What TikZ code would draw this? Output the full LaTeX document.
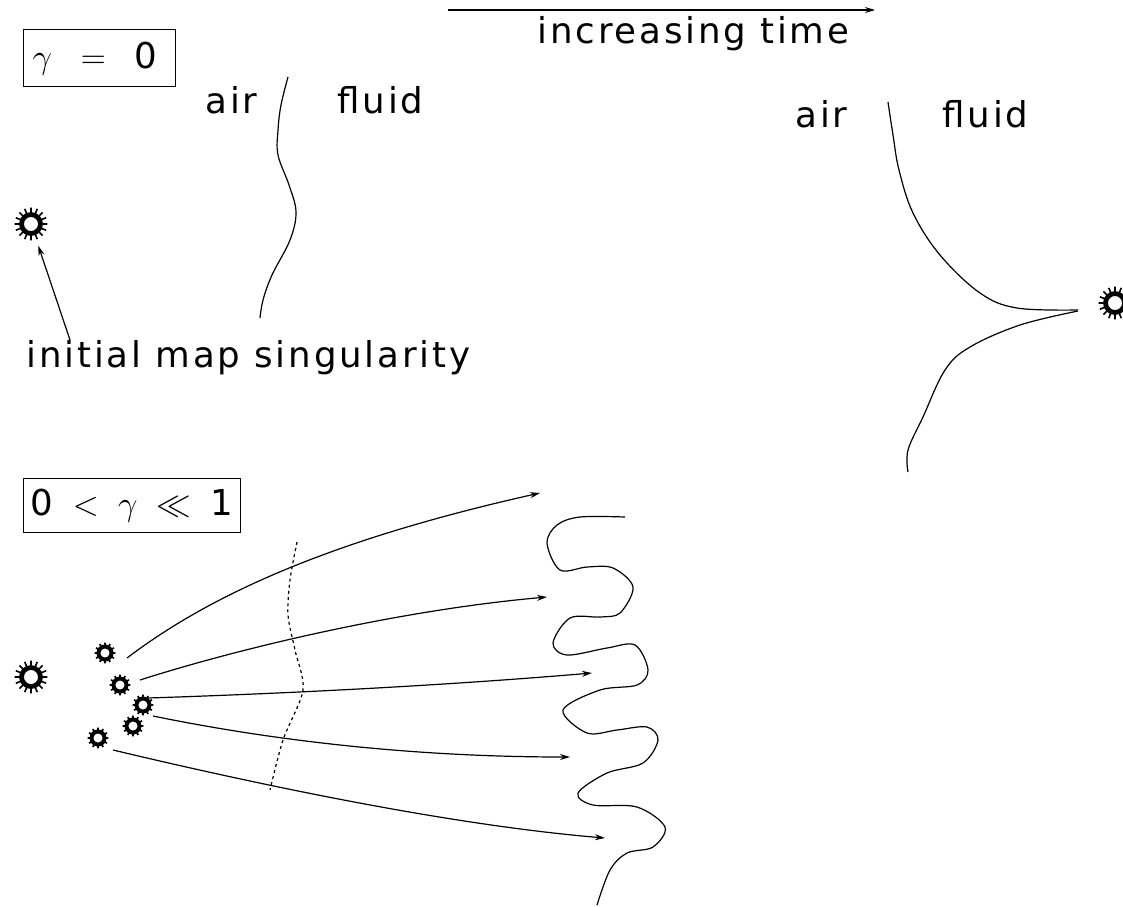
\documentclass[tikz,border=0pt]{standalone}
\usepackage{fontspec}
\setmainfont{DejaVu Sans}[LetterSpace=8]
\usepackage{tikz}
\usetikzlibrary{arrows.meta}

\tikzset{
  flow/.style={-{Stealth[length=5pt,width=3pt]},line width=0.6pt},
  lbl/.style={anchor=base west,inner sep=0pt},
  gbox/.style={draw,line width=0.7pt,anchor=north west,align=left,inner xsep=4.5pt,inner ysep=0pt},
  bigburst/.style={circle,draw,line width=2.4pt,minimum size=9.5pt,inner sep=0pt},
  smallburst/.style={circle,draw,line width=2pt,minimum size=6.5pt,inner sep=0pt},
}
% spikes round a burst node: name, inner radius, outer radius, step angle
\newcommand{\spikes}[4]{\draw[line width=0.8pt,shift={(#1.center)}] \foreach \a in {0,#4,...,359} {(\a:#2) -- (\a:#3)};}

\begin{document}
\begin{tikzpicture}[x=0.5pt,y=-0.5pt,every node/.style={font=\fontsize{17.8pt}{21pt}\selectfont}]
  \useasboundingbox (0,0) rectangle (1123,906);

  % time axis
  \coordinate (t0) at (448,10);
  \coordinate (t1) at (875,10);
  \draw[flow] (t0) -- (t1);
  \node[lbl] (time) at (537,43) {increasing time};

  % gamma = 0
  \node[gbox,text width=67pt,minimum height=28.5pt] (g0) at (23,29) {\mbox{$\gamma\;\;=\;\;\mbox{0}$}};
  \node[lbl] (air1) at (205,113) {air};
  \node[lbl] (fluid1) at (337,113) {fluid};
  \draw[line width=0.6pt] plot[smooth,tension=0.6] coordinates {(288,77) (281,105) (278,130) (278,155) (289,185) (296,212) (290,240) (272,275) (263,300) (260,318)};
  \node[bigburst] (s0) at (31,224) {};
  \spikes{s0}{4.8pt}{8.2pt}{22.5}
  \node[lbl] (sing) at (26,367) {initial map singularity};
  \coordinate (p0) at (70,340);
  \draw[flow,shorten >=5.5pt] (p0) -- (s0);

  % later time, gamma = 0
  \node[lbl] (air2) at (795,127) {air};
  \node[lbl] (fluid2) at (942,127) {fluid};
  \draw[line width=0.6pt] plot[smooth,tension=0.6] coordinates {(888,102) (893,135) (899,170) (913,213) (940,255) (980,293) (1017,308) (1078,310)};
  \draw[line width=0.6pt] plot[smooth,tension=0.6] coordinates {(1078,311) (1020,325) (970,347) (945,370) (923,417) (908,450) (908,472)};
  \node[bigburst] (sR) at (1115,303) {};
  \spikes{sR}{4.8pt}{8.2pt}{22.5}

  % 0 < gamma << 1
  \node[gbox,inner xsep=3.5pt,text width=101.5pt,minimum height=27pt] (g1) at (23,478) {\mbox{$\mbox{0}\;<\;\gamma\;\ll\;\mbox{1}$}};
  \node[bigburst] (sB) at (31,677) {};
  \spikes{sB}{4.8pt}{8.2pt}{22.5}
  \node[smallburst] (b1) at (105,653) {};
  \node[smallburst] (b2) at (120,685) {};
  \node[smallburst] (b3) at (143,705) {};
  \node[smallburst] (b4) at (133,726) {};
  \node[smallburst] (b5) at (98,738) {};
  \foreach \b in {b1,b2,b3,b4,b5} {\spikes{\b}{3.2pt}{5.2pt}{30}}

  \coordinate (a1) at (127,658);
  \coordinate (a2) at (140,680);
  \coordinate (a3) at (148,698);
  \coordinate (a4) at (153,716);
  \coordinate (a5) at (113,750);
  \coordinate (e1) at (540,493);
  \coordinate (e2) at (547,597);
  \coordinate (e3) at (592,673);
  \coordinate (e4) at (570,757);
  \coordinate (e5) at (605,838);
  \draw[flow] (a1) .. controls (210,595) and (330,540) .. (e1);
  \draw[flow] (a2) .. controls (240,648) and (400,610) .. (e2);
  \draw[flow] (a3) .. controls (300,693) and (450,685) .. (e3);
  \draw[flow] (a4) .. controls (280,742) and (420,757) .. (e4);
  \draw[flow] (a5) .. controls (260,785) and (450,825) .. (e5);

  \draw[line width=0.6pt,dash pattern=on 1.5pt off 1.6pt] plot[smooth] coordinates {(297,542) (290,580) (288,615) (295,650) (303,690) (283,740) (270,790)};

  % fingered interface
  \draw[line width=0.6pt] plot[smooth,tension=0.55] coordinates {(625,517) (580,517) (557,525) (547,543) (560,570) (587,567) (613,568) (633,587) (620,613) (600,617) (570,618) (553,643) (567,655) (607,648) (635,645) (648,670) (637,685) (600,690) (563,710) (587,733) (617,730) (647,727) (658,740) (643,763) (607,773) (578,793) (593,805) (637,807) (665,827) (653,847) (627,853) (610,870) (597,905)};
\end{tikzpicture}
\end{document}
